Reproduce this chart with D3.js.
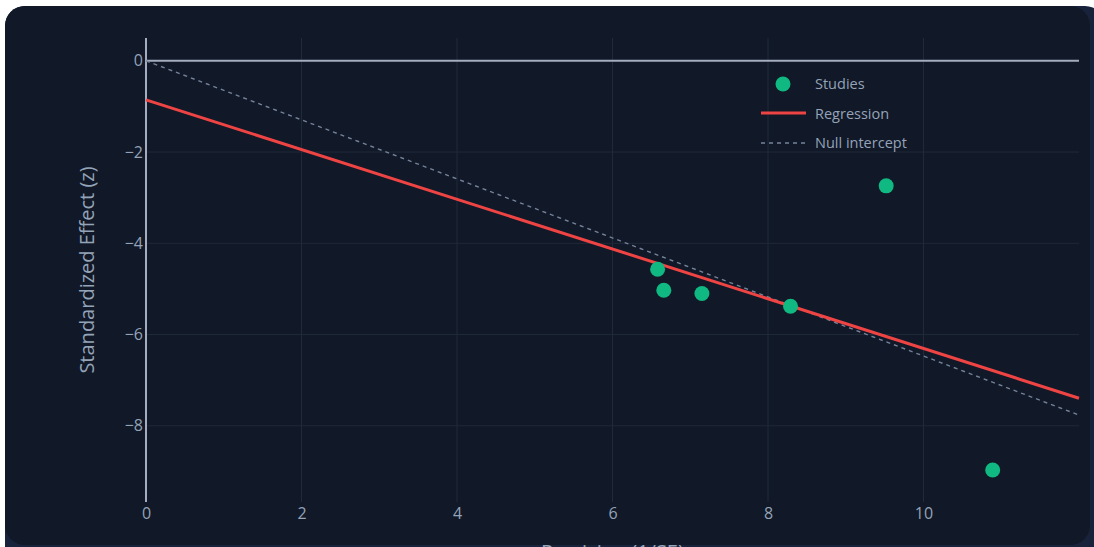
<!DOCTYPE html>
<html><head><meta charset="utf-8">
<script src="https://cdn.jsdelivr.net/npm/d3@7"></script>
<style>html,body{margin:0;padding:0;background:#fff;overflow:hidden;}svg{display:block;}</style>
</head><body>
<script>
// Data
const precision = [6.58, 6.66, 7.15, 8.29, 9.52, 10.89];
const zEffect   = [-4.57, -5.03, -5.10, -5.38, -2.74, -8.97];
const regIntercept = -0.855;
const regSlope = -0.545;
const nullSlope = -0.647;
const xTicks = [0, 2, 4, 6, 8, 10];
const yTicks = [0, -2, -4, -6, -8];
const legendLabels = ["Studies", "Regression", "Null intercept"];
const xTitle = "Precision (1/SE)";
const yTitle = "Standardized Effect (z)";

const W = 1094, H = 547;
const svg = d3.select("body").append("svg").attr("width", W).attr("height", H);

// backgrounds
svg.append("rect").attr("x", 5).attr("y", 6).attr("width", 1100).attr("height", 570).attr("rx", 20).attr("fill", "#18223a");
svg.append("rect").attr("x", 5).attr("y", 6).attr("width", 1085).attr("height", 539).attr("rx", 20).attr("fill", "#111827");

const x = d3.scaleLinear().domain([0, 12]).range([146, 1079]);
const y = d3.scaleLinear().domain([0.5, -9.67]).range([38, 502]);
const font = "'Open Sans', Verdana, Arial, sans-serif";

// grid
svg.append("g").selectAll("line").data(xTicks.filter(d => d !== 0)).join("line")
  .attr("x1", d => x(d)).attr("x2", d => x(d)).attr("y1", 38).attr("y2", 502)
  .attr("stroke", "#1f2a3b").attr("stroke-width", 1);
svg.append("g").selectAll("line").data(yTicks.filter(d => d !== 0)).join("line")
  .attr("x1", 146).attr("x2", 1079).attr("y1", d => y(d)).attr("y2", d => y(d))
  .attr("stroke", "#1f2a3b").attr("stroke-width", 1);

// axes (labels only) via d3 axes
const fmt = d => (d < 0 ? "\u2212" + Math.abs(d) : String(d));
const gx = svg.append("g").attr("transform", "translate(0,502)")
  .call(d3.axisBottom(x).tickValues(xTicks).tickFormat(fmt).tickSize(0).tickPadding(6));
const gy = svg.append("g").attr("transform", "translate(146,0)")
  .call(d3.axisLeft(y).tickValues(yTicks).tickFormat(fmt).tickSize(0).tickPadding(3));
[gx, gy].forEach(g => {
  g.select(".domain").remove();
  g.selectAll("text").attr("fill", "#94a3b8").style("font-family", font).style("font-size", "16px");
});

// zero lines
svg.append("line").attr("x1", x(0)).attr("x2", x(12)).attr("y1", y(0)).attr("y2", y(0))
  .attr("stroke", "#a3adbf").attr("stroke-width", 2);
svg.append("line").attr("x1", x(0)).attr("x2", x(0)).attr("y1", 38).attr("y2", 502)
  .attr("stroke", "#a3adbf").attr("stroke-width", 2);

// null intercept line
svg.append("line").attr("x1", x(0)).attr("y1", y(0)).attr("x2", x(12)).attr("y2", y(nullSlope * 12))
  .attr("stroke", "#74839a").attr("stroke-width", 1.4).attr("stroke-dasharray", "4,4");
// regression line
svg.append("line").attr("x1", x(0)).attr("y1", y(regIntercept)).attr("x2", x(12)).attr("y2", y(regIntercept + regSlope * 12))
  .attr("stroke", "#ef4444").attr("stroke-width", 3);

// points
svg.append("g").selectAll("circle").data(precision.map((p, i) => [p, zEffect[i]])).join("circle")
  .attr("cx", d => x(d[0])).attr("cy", d => y(d[1])).attr("r", 7.5).attr("fill", "#10b981");

// legend
const lg = svg.append("g");
lg.append("circle").attr("cx", 783).attr("cy", 84).attr("r", 7.5).attr("fill", "#10b981");
lg.append("line").attr("x1", 761).attr("x2", 806).attr("y1", 113).attr("y2", 113).attr("stroke", "#ef4444").attr("stroke-width", 3);
lg.append("line").attr("x1", 761).attr("x2", 806).attr("y1", 143).attr("y2", 143).attr("stroke", "#74839a").attr("stroke-width", 1.4).attr("stroke-dasharray", "4,4");
lg.selectAll("text").data(legendLabels).join("text")
  .attr("x", 815).attr("y", (d, i) => 84 + i * 29.5).attr("dy", "0.35em")
  .attr("fill", "#94a3b8").style("font-family", font).style("font-size", "14.5px").text(d => d);

// titles
svg.append("text").attr("x", x(6)).attr("y", 559).attr("text-anchor", "middle")
  .attr("fill", "#94a3b8").style("font-family", font).style("font-size", "20px").text(xTitle);
svg.append("text").attr("transform", `translate(94,270) rotate(-90)`).attr("text-anchor", "middle")
  .attr("fill", "#94a3b8").style("font-family", font).style("font-size", "20px").text(yTitle);
</script>
</body></html>
